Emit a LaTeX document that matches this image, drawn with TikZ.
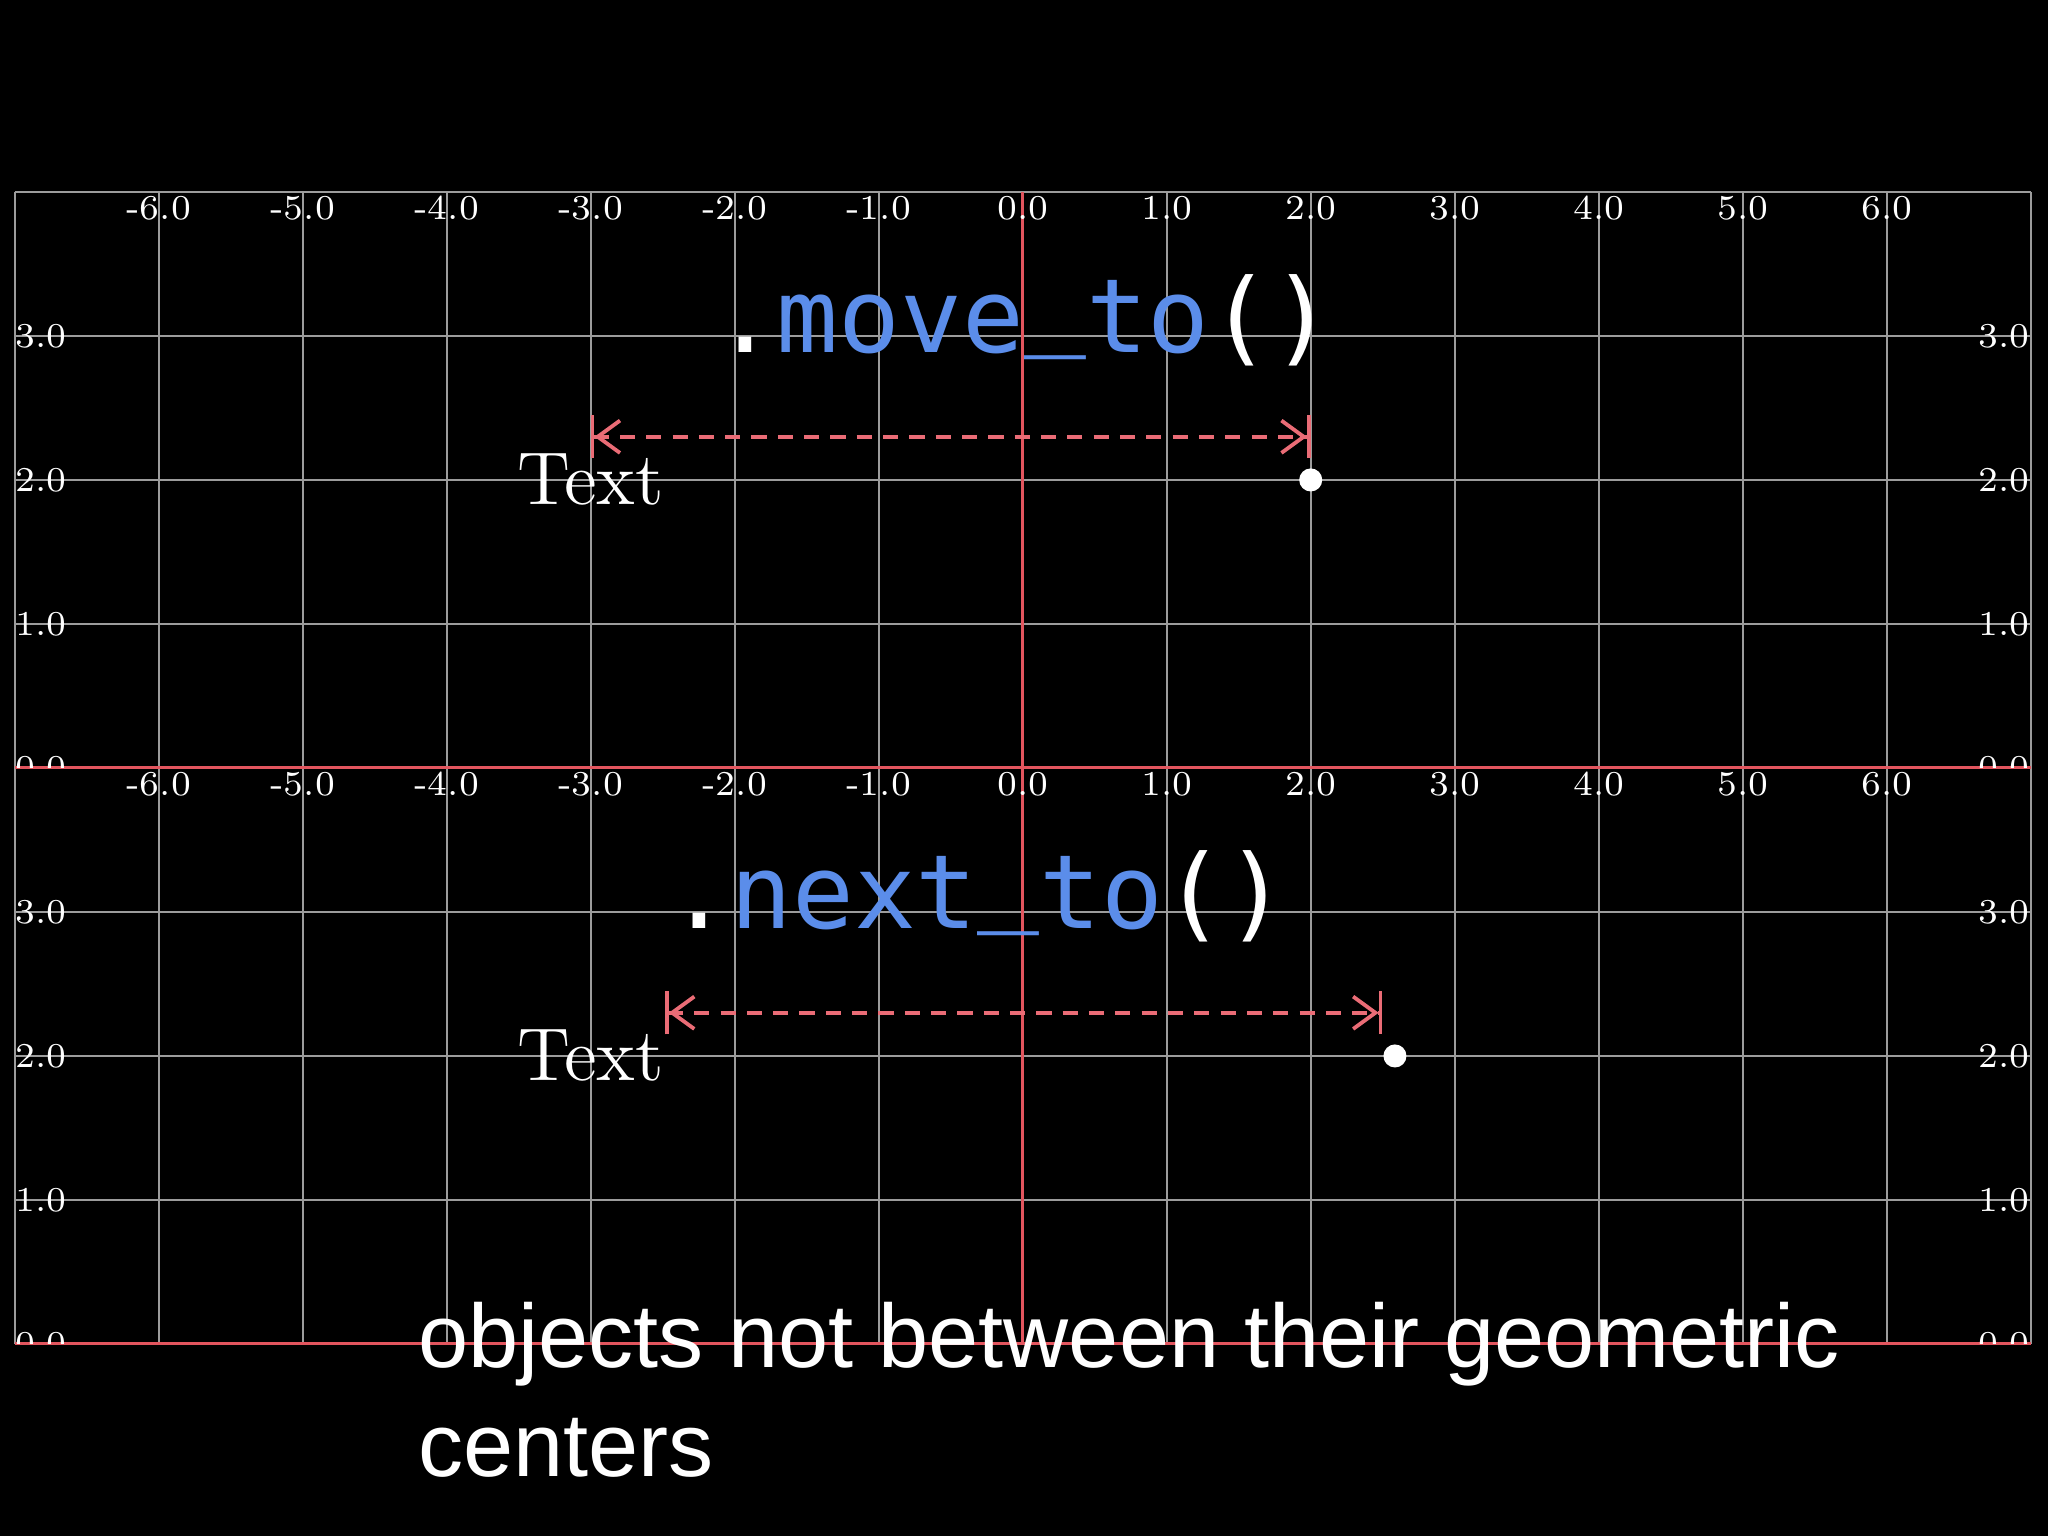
\documentclass[tikz,border=0pt]{standalone}
\usepackage{fontspec}
\usepackage{xcolor}
\usetikzlibrary{arrows.meta,calc,positioning}
\newfontfamily\codefont{DejaVu Sans Mono}
\newfontfamily\captionfont{Liberation Sans}
\definecolor{GridGrey}{HTML}{9C9C9C}
\definecolor{AxisRed}{HTML}{E2555E}
\definecolor{GapPink}{HTML}{EA6C76}
\definecolor{CodeBlue}{HTML}{5B8DEA}

\begin{document}
\begin{tikzpicture}[x=1cm,y=1cm,
  gridline/.style={GridGrey,line width=0.4pt},
  axisline/.style={AxisRed,line width=0.6pt},
  tick/.style={white,inner sep=0pt,font=\fontsize{6.9}{8}\selectfont},
  code/.style={inner sep=0pt,anchor=base,font=\codefont\fontsize{20.3}{24}\selectfont},
  word/.style={white,inner sep=0pt,font=\fontsize{14.8}{17}\selectfont},
  gdot/.style={circle,fill=white,inner sep=0pt,minimum size=0.16cm},
  gap/.style={GapPink,dashed,dash pattern=on 3pt off 2.2pt,line width=0.75pt,
    {Bar[width=8.5pt,line width=0.75pt]Straight Barb[length=4.4pt,width=6.4pt,line width=0.75pt]}-%
    {Straight Barb[length=4.4pt,width=6.4pt,line width=0.75pt]Bar[width=8.5pt,line width=0.75pt]}},
  subtitle/.style={white,inner sep=0pt,align=left,
    font=\captionfont\fontsize{17.8}{21.5}\selectfont}]
  \useasboundingbox (-7.102,-1.334) rectangle (7.120,9.333);
  \fill[black] (-7.102,-1.334) rectangle (7.120,9.333);
  % two coordinate panels, the lower one first
  \foreach \py/\pn in {0/next,4/move}{
    \begin{scope}[yshift=\py cm]
      \foreach \gx in {-7,...,7} \draw[gridline] (\gx,0) -- (\gx,4);
      \foreach \gy in {1,...,4} \draw[gridline] (-7,\gy) -- (7,\gy);
      \draw[axisline] (-7,0) -- (7,0);
      \draw[axisline] (0,0) -- (0,4);
      \begin{scope}
        \clip (-7,0) rectangle (7,4);
        \foreach \gx in {-6,...,6}
          \node[tick,anchor=north] (\pn x\gx) at (\gx,3.98) {\gx.0};
        \foreach \gy in {0,...,3}{
          \node[tick,anchor=west] (\pn yl\gy) at (-7,\gy) {\gy.0};
          \node[tick,anchor=east] (\pn yr\gy) at (7,\gy) {\gy.0};
        }
      \end{scope}
    \end{scope}
  }
  % upper panel
  \node[code] (movecode) at (0.01,6.885)
    {\textcolor{white}{.}\textcolor{CodeBlue}{move\raisebox{0.17em}{\_}to}\textcolor{white}{()}};
  \node[word] (movetext) at (-3,6) {Text};
  \node[gdot] (movedot) at (2,6) {};
  \coordinate (moveL) at ($(movetext.center)+(0,0.3)$);
  \coordinate (moveR) at ($(movedot.center)+(0,0.3)$);
  \draw[gap] (moveL) -- (moveR);
  % lower panel
  \node[code] (nextcode) at (-0.312,2.885)
    {\textcolor{white}{.}\textcolor{CodeBlue}{next\raisebox{0.17em}{\_}to}\textcolor{white}{()}};
  \node[word] (nexttext) at (-3,2) {Text};
  \node[gdot] (nextdot) at (2.585,2) {};
  \coordinate (nextL) at ($(nexttext.east)+(0,0.3)$);
  \coordinate (nextR) at ($(nextdot.west)+(0,0.3)$);
  \draw[gap] (nextL) -- (nextR);
  \node[subtitle,anchor=base west] (caption) at (-4.206,-0.919)
    {objects not between their geometric\\centers};
\end{tikzpicture}
\end{document}
